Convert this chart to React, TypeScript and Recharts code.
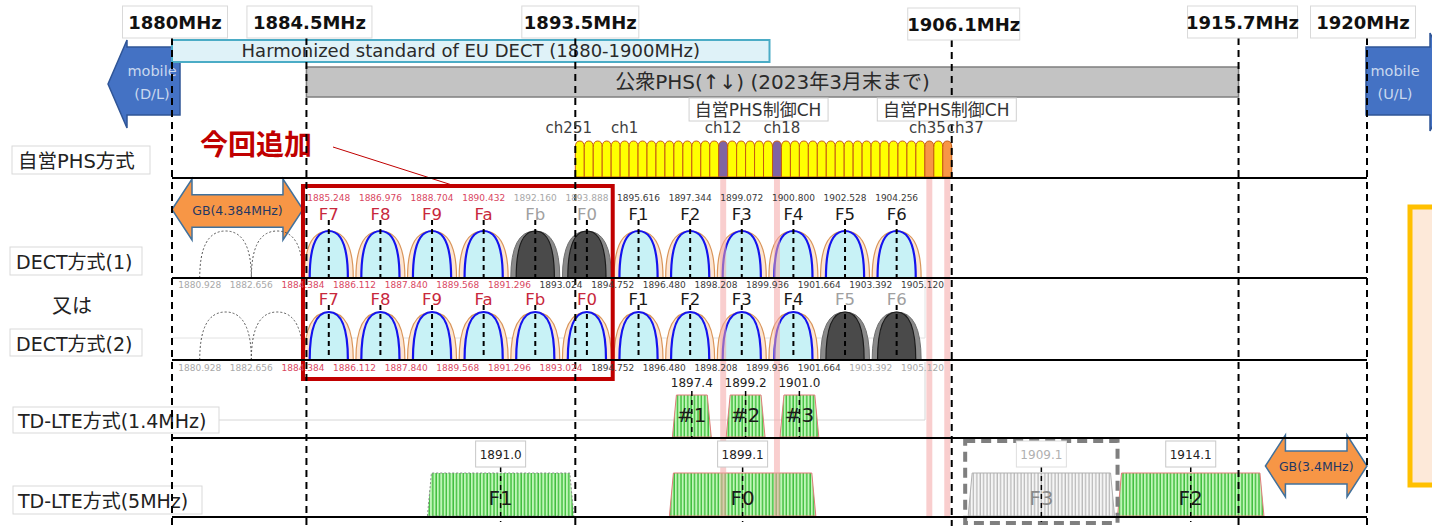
import React from "react";
import {
  ComposedChart,
  XAxis,
  YAxis,
  ReferenceArea,
  ReferenceLine,
  ReferenceDot,
} from "recharts";

const W = 1432;
const H = 526;
const FONT = "'DejaVu Sans', 'Noto Sans CJK JP', sans-serif";
const CJK = "'Noto Sans CJK JP', 'DejaVu Sans', sans-serif";

// ---- frequency boundaries (MHz) ----
const boundaryMHz = [1880, 1884.5, 1893.5, 1906.1, 1915.7, 1920];
const boundaryText = ["1880MHz", "1884.5MHz", "1893.5MHz", "1906.1MHz", "1915.7MHz", "1920MHz"];

// ---- allocations ----
const euDectBand = [1880, 1900];
const euDectText = "Harmonized standard of EU DECT (1880-1900MHz)";
const publicPhsBand = [1884.5, 1915.7];
const publicPhsText = "公衆PHS(↑↓) (2023年3月末まで)";

// ---- private PHS carriers ch251-255, ch1-37 ----
const phsMHz = [
  1893.65, 1893.95, 1894.25, 1894.55, 1894.85,
  1895.15, 1895.45, 1895.75, 1896.05, 1896.35, 1896.65, 1896.95, 1897.25, 1897.55, 1897.85,
  1898.15, 1898.45, 1898.75, 1899.05, 1899.35, 1899.65, 1899.95, 1900.25, 1900.55, 1900.85,
  1901.15, 1901.45, 1901.75, 1902.05, 1902.35, 1902.65, 1902.95, 1903.25, 1903.55, 1903.85,
  1904.15, 1904.45, 1904.75, 1905.05, 1905.35, 1905.65, 1905.95,
];
const phsTagText = ["ch251", "ch1", "ch12", "ch18", "ch35", "ch37"];
const phsTagMHz = [1893.65, 1895.15, 1898.45, 1900.25, 1905.35, 1905.95];
const phsCtrlA = [1898.45, 1900.25];
const phsCtrlB = [1905.35, 1905.95];
const phsCtrlText = "自営PHS制御CH";

// ---- DECT ----
const dectName = ["F7", "F8", "F9", "Fa", "Fb", "F0", "F1", "F2", "F3", "F4", "F5", "F6"];
const dectMHz = [1885.248, 1886.976, 1888.704, 1890.432, 1892.16, 1893.888, 1895.616, 1897.344, 1899.072, 1900.8, 1902.528, 1904.256];
const dect1State = ["new", "new", "new", "new", "off", "off", "on", "on", "on", "on", "on", "on"];
const dect2State = ["new", "new", "new", "new", "new", "new", "on", "on", "on", "on", "off", "off"];
const dectGuardMHz = [1881.792, 1883.52];
const dectEdgeMHz = [1880.928, 1882.656, 1884.384, 1886.112, 1887.84, 1889.568, 1891.296, 1893.024, 1894.752, 1896.48, 1898.208, 1899.936, 1901.664, 1903.392, 1905.12];
const dect1EdgeState = ["off", "off", "new", "new", "new", "new", "new", "on", "on", "on", "on", "on", "on", "on", "on"];
const dect2EdgeState = ["off", "off", "new", "new", "new", "new", "new", "new", "on", "on", "on", "on", "on", "off", "off"];
const lowGuard = [1880, 1884.384];
const lowGuardText = "GB(4.384MHz)";
const addedBlock = [1884.384, 1894.752];

// ---- TD-LTE ----
const lte14Name = ["#1", "#2", "#3"];
const lte14MHz = [1897.4, 1899.2, 1901.0];
const lte5Name = ["F1", "F0", "F3", "F2"];
const lte5MHz = [1891.0, 1899.1, 1909.1, 1914.1];
const lte5State = ["on", "on", "off", "on"];
const highGuard = [1916.6, 1920];
const highGuardText = "GB(3.4MHz)";

// ---- layout (pixels / MHz half widths) ----
const rowLines = [178, 278, 360, 438, 517];
const topBox = [
  { w: 105, dx: 3, cy: 22 },
  { w: 125, dx: 3, cy: 22 },
  { w: 117, dx: 5, cy: 22 },
  { w: 112, dx: 12, cy: 24 },
  { w: 110, dx: 4, cy: 22 },
  { w: 105, dx: -4, cy: 22 },
];
const tagDx = [-11, 0, 0, 5, -2, 18];
const DECT_HALF = 0.82;
const GUARD_HALF = 0.864;
const PHS_HALF = 0.15;
const PINK_HALF = 0.1;
const LTE14_HALF = 0.65;
const LTE5_HALF = 2.45;
const d1 = { freq: 201, name: 220, top: 231, bottom: 278, edge: 288, tick: 220 };
const d2 = { name: 305, top: 312, bottom: 360, edge: 371, tick: 305 };

const labelColour: Record<string, string> = { new: "#c8283c", on: "#1a1a1a", off: "#a0a0a0" };
const smallColour: Record<string, string> = { new: "#d9475f", on: "#3a3a3a", off: "#a8a8a8" };

const arch = (xl: number, xr: number, yt: number, yb: number) => {
  const cx = (xl + xr) / 2;
  return `M${xl},${yb} Q${xl},${yt} ${cx},${yt} Q${xr},${yt} ${xr},${yb}`;
};

function Txt(p: any) {
  const { x, y, size, fill = "#222", weight, anchor = "middle", family = FONT, children } = p;
  return (
    <text x={x} y={y} fontSize={size} fill={fill} fontWeight={weight} textAnchor={anchor} fontFamily={family}>
      {children}
    </text>
  );
}

function DectArch(p: any) {
  const { x, y, width, height, state } = p;
  const yb = y + height;
  const inset = width * 0.11;
  const outer = arch(x, x + width, y, yb);
  const inner = arch(x + inset, x + width - inset, y, yb);
  if (state === "off") {
    return (
      <g>
        <path d={outer} fill="#8a8a8a" stroke="#707070" strokeWidth={1} />
        <path d={inner} fill="#4a4a4a" stroke="#1c1c1c" strokeWidth={1.2} />
      </g>
    );
  }
  return (
    <g>
      <path d={outer} fill="#fde5d2" stroke="#d9955a" strokeWidth={1.2} />
      <path d={inner} fill="#c8f2f6" stroke="#1414ee" strokeWidth={2.2} />
    </g>
  );
}

function PhsArch(p: any) {
  const { x, y, width, height, fill } = p;
  const yb = y + height;
  const r = width * 0.7;
  const cx = x + width / 2;
  const d = `M${x},${yb} L${x},${y + r} Q${x},${y} ${cx},${y} Q${x + width},${y} ${x + width},${y + r} L${x + width},${yb} Z`;
  return <path d={d} fill={fill} stroke="#c55a11" strokeWidth={1} />;
}

function DoubleArrow(p: any) {
  const { x, y, width: w, height: h, text } = p;
  const hl = 20;
  const st = y + h * 0.26;
  const sb = y + h * 0.79;
  const d = `M${x},${y + h / 2} L${x + hl},${y} L${x + hl},${st} L${x + w - hl},${st} L${x + w - hl},${y} L${x + w},${y + h / 2} L${x + w - hl},${y + h} L${x + w - hl},${sb} L${x + hl},${sb} L${x + hl},${y + h} Z`;
  return (
    <g>
      <path d={d} fill="#f79646" stroke="#41719c" strokeWidth={1.5} />
      <Txt x={x + w / 2} y={y + h / 2 + 5} size={12.5} fill="#1f3864">{text}</Txt>
    </g>
  );
}

function LteBlock(p: any) {
  const { x, y, width: w, height: h, off, dotted } = p;
  const i = 4;
  const d = `M${x},${y + h} L${x + i},${y} L${x + w - i},${y} L${x + w},${y + h} Z`;
  return (
    <path
      d={d}
      fill={off ? "url(#lteGrey)" : "url(#lteGreen)"}
      stroke={dotted ? "#8a8a8a" : off ? "#b0b0b0" : "#e07a7a"}
      strokeWidth={1}
      strokeDasharray={dotted ? "2 2" : undefined}
    />
  );
}

function Backdrop() {
  const lbl = (x: number, y: number, w: number, h: number, tx: number, ty: number, s: string, size: number) => (
    <g key={s}>
      <rect x={x} y={y} width={w} height={h} fill="#fff" stroke="#d9d9d9" />
      <Txt x={tx} y={ty} size={size} anchor="start">{s}</Txt>
    </g>
  );
  return (
    <svg width={W} height={H} style={{ position: "absolute", left: 0, top: 0 }}>
      {/* faint picture frames behind the DECT(2) and TD-LTE(1.4) rows */}
      <path d="M172,338 L925,338 L925,280" fill="none" stroke="#e2e2e2" strokeWidth={1} />
      <path d="M219,420 L925,420 L925,362" fill="none" stroke="#d6d6d6" strokeWidth={1} />
      <path d="M108,84 L127,40 L127,47 L180,47 L180,115 L127,115 L127,128 Z" fill="#4472c4" stroke="#2f5597" strokeWidth={1.5} />
      <Txt x={152} y={76} size={14.5} fill="#c9d8ee">mobile</Txt>
      <Txt x={152} y={99} size={14.5} fill="#c9d8ee">(D/L)</Txt>
      <path d="M1366,47 L1430,47 L1430,33 L1456,82 L1430,131 L1430,115 L1366,115 Z" fill="#4472c4" stroke="#2f5597" strokeWidth={1.5} />
      <Txt x={1395} y={76} size={14.5} fill="#c9d8ee">mobile</Txt>
      <Txt x={1395} y={99} size={14.5} fill="#c9d8ee">(U/L)</Txt>
      {lbl(12, 146, 138, 28, 18, 168, "自営PHS方式", 19.5)}
      {lbl(10, 247, 132, 28, 16, 269, "DECT方式(1)", 19)}
      <Txt x={72} y={313} size={20}>又は</Txt>
      {lbl(10, 329, 132, 27, 16, 351, "DECT方式(2)", 19)}
      {lbl(13, 407, 206, 26, 18, 428, "TD-LTE方式(1.4MHz)", 19)}
      {lbl(13, 486, 189, 28, 18, 508, "TD-LTE方式(5MHz)", 19)}
      <Txt x={256} y={155} size={28} weight={700} fill="#c00000" family={CJK}>今回追加</Txt>
      <line x1={333} y1={147} x2={452} y2={185} stroke="#c00000" strokeWidth={1} />
      <rect x={1410} y={207} width={40} height={278} fill="#fde9d9" stroke="#ffc000" strokeWidth={5} />
    </svg>
  );
}

export default function App() {
  return (
    <div style={{ position: "absolute", left: 0, top: 0, width: W, height: H, background: "#fff" }}>
      <Backdrop />
      <div style={{ position: "absolute", left: 0, top: 0 }}>
        <ComposedChart
          width={W}
          height={H}
          data={dectMHz.map((f) => ({ f }))}
          margin={{ top: 0, right: 65, bottom: 0, left: 172 }}
        >
          <defs>
            <pattern id="lteGreen" width={3.4} height={10} patternUnits="userSpaceOnUse">
              <rect width={3.4} height={10} fill="#a9f2a0" />
              <line x1={1} y1={0} x2={1} y2={10} stroke="#26b026" strokeWidth={1.1} />
              <line x1={2.5} y1={0} x2={2.5} y2={10} stroke="#ecffe8" strokeWidth={0.6} />
            </pattern>
            <pattern id="lteGrey" width={3.4} height={10} patternUnits="userSpaceOnUse">
              <rect width={3.4} height={10} fill="#f6f6f6" />
              <line x1={1} y1={0} x2={1} y2={10} stroke="#a0a0a0" strokeWidth={0.9} />
            </pattern>
          </defs>
          <XAxis type="number" dataKey="f" domain={[1880, 1920]} hide allowDataOverflow />
          <YAxis type="number" domain={[0, H]} reversed hide allowDataOverflow />

          {/* allocation bars */}
          <ReferenceArea
            x1={euDectBand[0]}
            x2={euDectBand[1]}
            y1={40}
            y2={62}
            shape={(p: any) => (
              <g>
                <rect x={p.x} y={p.y} width={p.width} height={p.height} fill="#dff2f8" stroke="#4bacc6" strokeWidth={2} />
                <Txt x={p.x + p.width / 2} y={p.y + 17} size={18} fill="#2a2a2a">{euDectText}</Txt>
              </g>
            )}
          />
          <ReferenceArea
            x1={publicPhsBand[0]}
            x2={publicPhsBand[1]}
            y1={67}
            y2={97}
            shape={(p: any) => (
              <g>
                <rect x={p.x} y={p.y} width={p.width} height={p.height} fill="#c3c3c3" stroke="#7f7f7f" strokeWidth={1.5} />
                <Txt x={p.x + p.width / 2} y={p.y + 22} size={20} fill="#2a2a2a">{publicPhsText}</Txt>
              </g>
            )}
          />

          {/* private PHS carriers */}
          {phsMHz.map((f) => (
            <ReferenceArea
              key={`phs${f}`}
              x1={f - PHS_HALF}
              x2={f + PHS_HALF}
              y1={141}
              y2={177}
              shape={(p: any) => (
                <PhsArch {...p} fill={phsCtrlA.includes(f) ? "#8064a2" : phsCtrlB.includes(f) ? "#f79646" : "#ffff00"} />
              )}
            />
          ))}

          {/* guard bands */}
          <ReferenceArea x1={lowGuard[0]} x2={lowGuard[1]} y1={179} y2={240} shape={(p: any) => <DoubleArrow {...p} text={lowGuardText} />} />
          <ReferenceArea x1={highGuard[0]} x2={highGuard[1]} y1={435} y2={497} shape={(p: any) => <DoubleArrow {...p} text={highGuardText} />} />

          {/* DECT guard carriers (dashed) */}
          {dectGuardMHz.map((f) =>
            [d1, d2].map((r, k) => (
              <ReferenceArea
                key={`g${f}${k}`}
                x1={f - GUARD_HALF}
                x2={f + GUARD_HALF}
                y1={r.top}
                y2={r.bottom}
                shape={(p: any) => (
                  <path d={arch(p.x, p.x + p.width, p.y, p.y + p.height)} fill="none" stroke="#555" strokeWidth={1} strokeDasharray="2 2" />
                )}
              />
            ))
          )}

          {/* DECT carriers */}
          {dectMHz.map((f, i) => (
            <ReferenceArea key={`a1${i}`} x1={f - DECT_HALF} x2={f + DECT_HALF} y1={d1.top} y2={d1.bottom} shape={(p: any) => <DectArch {...p} state={dect1State[i]} />} />
          ))}
          {dectMHz.map((f, i) => (
            <ReferenceArea key={`a2${i}`} x1={f - DECT_HALF} x2={f + DECT_HALF} y1={d2.top} y2={d2.bottom} shape={(p: any) => <DectArch {...p} state={dect2State[i]} />} />
          ))}

          {/* TD-LTE blocks */}
          {lte14MHz.map((f, i) => (
            <ReferenceArea key={`l14${i}`} x1={f - LTE14_HALF} x2={f + LTE14_HALF} y1={395} y2={437} shape={(p: any) => <LteBlock {...p} />} />
          ))}
          {lte5MHz.map((f, i) => (
            <ReferenceArea
              key={`l5${i}`}
              x1={f - LTE5_HALF}
              x2={f + LTE5_HALF}
              y1={473}
              y2={516}
              shape={(p: any) => <LteBlock {...p} off={lte5State[i] === "off"} dotted={i === 0} />}
            />
          ))}
          {lte5MHz.map((f, i) =>
            lte5State[i] === "off" ? (
              <ReferenceArea
                key={`l5box${i}`}
                x1={f - LTE5_HALF - 0.1}
                x2={f + LTE5_HALF + 0.1}
                y1={441}
                y2={523}
                shape={(p: any) => (
                  <rect x={p.x} y={p.y} width={p.width} height={p.height} fill="none" stroke="#7f7f7f" strokeWidth={4} strokeDasharray="10 6" />
                )}
              />
            ) : null
          )}

          {/* control channel bands */}
          {[...phsCtrlA, ...phsCtrlB].map((f) => (
            <ReferenceArea key={`pink${f}`} x1={f - PINK_HALF} x2={f + PINK_HALF} y1={179} y2={517} fill="#f4a6a6" fillOpacity={0.55} stroke="none" />
          ))}

          {/* newly added block */}
          <ReferenceArea
            x1={addedBlock[0]}
            x2={addedBlock[1]}
            y1={186}
            y2={379}
            shape={(p: any) => <rect x={p.x} y={p.y} width={p.width} height={p.height} fill="none" stroke="#c00000" strokeWidth={4} />}
          />

          {/* frequency boundaries */}
          {boundaryMHz.map((f, i) => (
            <ReferenceLine
              key={`b${i}`}
              segment={[{ x: f, y: topBox[i].cy + 16 }, { x: f, y: H }]}
              stroke="#000"
              strokeWidth={2}
              strokeDasharray="7 5"
            />
          ))}
          {rowLines.map((y) => (
            <ReferenceLine key={`row${y}`} y={y} stroke="#000" strokeWidth={2} />
          ))}

          {/* carrier centre ticks */}
          {dectMHz.map((f, i) => (
            <ReferenceLine key={`t1${i}`} segment={[{ x: f, y: d1.tick }, { x: f, y: d1.bottom }]} stroke="#000" strokeWidth={2} strokeDasharray="5 4" />
          ))}
          {dectMHz.map((f, i) => (
            <ReferenceLine key={`t2${i}`} segment={[{ x: f, y: d2.tick }, { x: f, y: d2.bottom }]} stroke="#000" strokeWidth={2} strokeDasharray="5 4" />
          ))}
          {lte14MHz.map((f, i) => (
            <ReferenceLine key={`t3${i}`} segment={[{ x: f, y: 391 }, { x: f, y: 437 }]} stroke="#000" strokeWidth={1.5} strokeDasharray="5 4" />
          ))}
          {lte5MHz.map((f, i) => (
            <ReferenceLine key={`t4${i}`} segment={[{ x: f, y: 467 }, { x: f, y: 522 }]} stroke="#000" strokeWidth={1.5} strokeDasharray="5 4" />
          ))}

          {/* top frequency labels */}
          {boundaryMHz.map((f, i) => (
            <ReferenceDot
              key={`bl${i}`}
              x={f}
              y={topBox[i].cy}
              shape={(p: any) => (
                <g>
                  <rect x={p.cx + topBox[i].dx - topBox[i].w / 2} y={p.cy - 16} width={topBox[i].w} height={32} fill="#fff" stroke="#d9d9d9" />
                  <Txt x={p.cx + topBox[i].dx} y={p.cy + 7} size={18} weight={700} fill="#111">{boundaryText[i]}</Txt>
                </g>
              )}
            />
          ))}

          {/* PHS labels */}
          {[phsCtrlA, phsCtrlB].map((pair, k) => (
            <ReferenceDot
              key={`ctrl${k}`}
              x={(pair[0] + pair[1]) / 2}
              y={110}
              shape={(p: any) => (
                <g>
                  <rect x={p.cx + 8 - 69} y={p.cy - 12} width={139} height={23} fill="#fff" stroke="#d0d0d0" />
                  <Txt x={p.cx + 8} y={p.cy + 6} size={17} fill="#333">{phsCtrlText}</Txt>
                </g>
              )}
            />
          ))}
          {phsTagMHz.map((f, i) => (
            <ReferenceDot key={`tag${i}`} x={f} y={133} shape={(p: any) => <Txt x={p.cx + tagDx[i]} y={p.cy} size={15} fill="#404040">{phsTagText[i]}</Txt>} />
          ))}

          {/* DECT labels */}
          {dectMHz.map((f, i) => (
            <ReferenceDot key={`cf${i}`} x={f} y={d1.freq} shape={(p: any) => <Txt x={p.cx} y={p.cy} size={9} fill={smallColour[dect1State[i]]}>{f.toFixed(3)}</Txt>} />
          ))}
          {dectMHz.map((f, i) => (
            <ReferenceDot key={`n1${i}`} x={f} y={d1.name} shape={(p: any) => <Txt x={p.cx} y={p.cy} size={16.5} fill={labelColour[dect1State[i]]}>{dectName[i]}</Txt>} />
          ))}
          {dectMHz.map((f, i) => (
            <ReferenceDot key={`n2${i}`} x={f} y={d2.name} shape={(p: any) => <Txt x={p.cx} y={p.cy} size={16.5} fill={labelColour[dect2State[i]]}>{dectName[i]}</Txt>} />
          ))}
          {dectEdgeMHz.map((f, i) => (
            <ReferenceDot key={`e1${i}`} x={f} y={d1.edge} shape={(p: any) => <Txt x={p.cx} y={p.cy} size={9} fill={smallColour[dect1EdgeState[i]]}>{f.toFixed(3)}</Txt>} />
          ))}
          {dectEdgeMHz.map((f, i) => (
            <ReferenceDot key={`e2${i}`} x={f} y={d2.edge} shape={(p: any) => <Txt x={p.cx} y={p.cy} size={9} fill={smallColour[dect2EdgeState[i]]}>{f.toFixed(3)}</Txt>} />
          ))}

          {/* TD-LTE labels */}
          {lte14MHz.map((f, i) => (
            <ReferenceDot
              key={`lf14${i}`}
              x={f}
              y={387}
              shape={(p: any) => (
                <g>
                  <Txt x={p.cx} y={p.cy} size={12} fill="#222">{f.toFixed(1)}</Txt>
                  <Txt x={p.cx} y={p.cy + 35} size={20} fill="#1a1a1a">{lte14Name[i]}</Txt>
                </g>
              )}
            />
          ))}
          {lte5MHz.map((f, i) => {
            const off = lte5State[i] === "off";
            return (
              <ReferenceDot
                key={`lf5${i}`}
                x={f}
                y={454}
                shape={(p: any) => (
                  <g>
                    <rect x={p.cx - 25} y={p.cy - 13} width={50} height={26} fill="#fff" stroke={off ? "#dedede" : "#c8c8c8"} />
                    <Txt x={p.cx} y={p.cy + 5} size={12} fill={off ? "#b0b0b0" : "#222"}>{f.toFixed(1)}</Txt>
                    <Txt x={p.cx} y={p.cy + 51} size={20} fill={off ? "#8a8a8a" : "#1a1a1a"}>{lte5Name[i]}</Txt>
                  </g>
                )}
              />
            );
          })}
        </ComposedChart>
      </div>
    </div>
  );
}
